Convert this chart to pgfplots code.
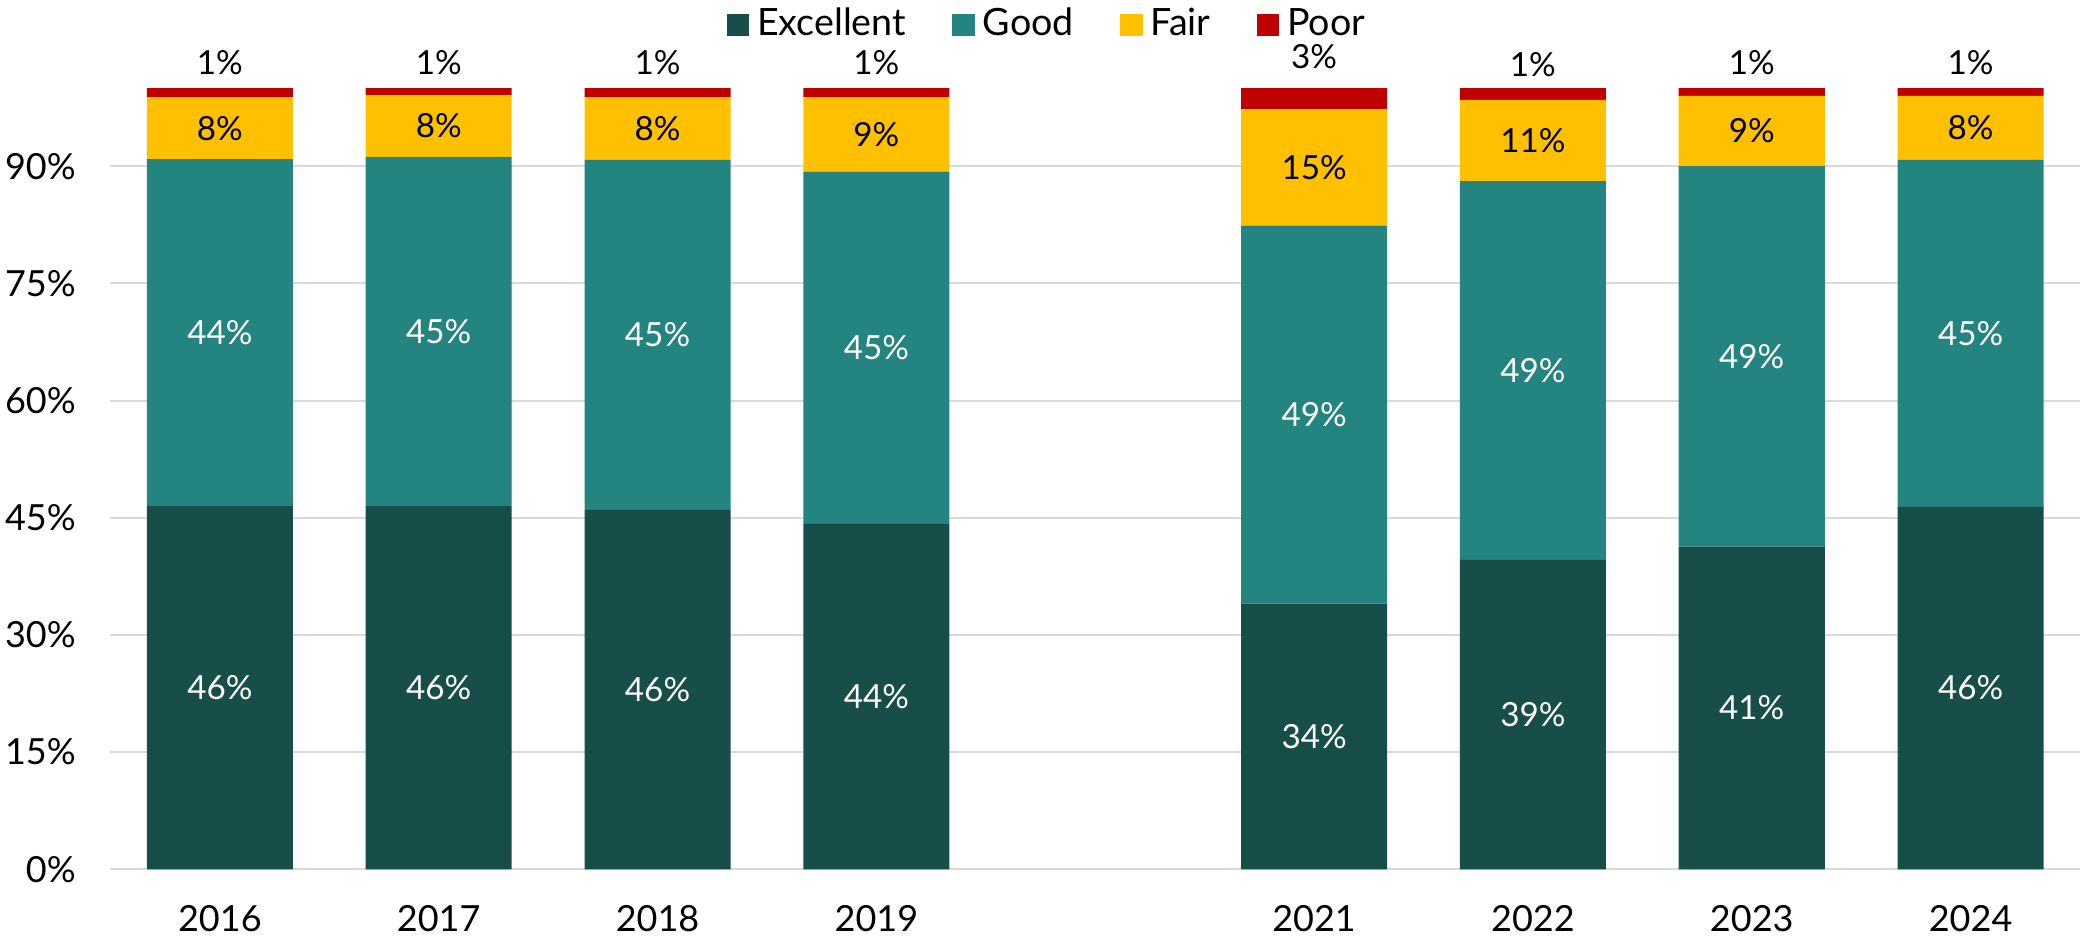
\documentclass[border=0pt]{standalone}
\usepackage{pgfplots}
\pgfplotsset{compat=1.18}
\usepackage{pgfplotstable}
\usepackage{fontspec}
\setmainfont{Lato}

\definecolor{cExc}{HTML}{184E4A}
\definecolor{cGood}{HTML}{248480}
\definecolor{cFair}{HTML}{FFC000}
\definecolor{cPoor}{HTML}{C00000}
\definecolor{cGrid}{HTML}{D9D9D9}

\pgfplotstableread{
x exc good fair poor le lg lf lp py
0 46.5 44.4 7.9 1.2 46 44 8 1 103.2
1 46.5 44.7 7.9 0.9 46 45 8 1 103.2
2 46.0 44.8 8.0 1.2 46 45 8 1 103.2
3 44.2 45.1 9.5 1.2 44 45 9 1 103.2
5 34.0 48.4 14.9 2.7 34 49 15 3 104.0
6 39.6 48.5 10.4 1.5 39 49 11 1 103.0
7 41.3 48.7 9.0 1.0 41 49 9 1 103.2
8 46.4 44.4 8.2 1.0 46 45 8 1 103.2
}\datatable

\pgfplotsset{
  frame/.style={
    scale only axis, width=492.25pt, height=195.25pt,
    xmin=-0.5, xmax=8.5, ymin=0, ymax=100,
  },
}

\begin{document}
\begin{tikzpicture}
\begin{axis}[
  frame,
  ybar stacked, bar width=36.5pt,
  xtick={0,1,2,3,5,6,7,8},
  xticklabels={2016,2017,2018,2019,2021,2022,2023,2024},
  ytick={0,15,30,45,60,75,90},
  yticklabels={0\%,15\%,30\%,45\%,60\%,75\%,90\%},
  ymajorgrids, grid style={cGrid, line width=0.5pt},
  axis line style={draw=none},
  tick style={draw=none},
  tick label style={font=\fontsize{9}{11}\selectfont, text=black},
  yticklabel style={inner xsep=1.25pt, inner ysep=0pt, xshift=-7.25pt},
  xticklabel style={inner xsep=0pt, inner ysep=1pt, yshift=-7.75pt},
  legend style={at={(0.477,1)}, anchor=center, yshift=15.8pt, draw=none,
    font=\fontsize{9.4}{11}\selectfont, inner sep=0pt,
    /tikz/every even column/.append style={column sep=9.6pt}},
  legend columns=-1,
  legend image code/.code={\fill[#1] (0pt,-2.8pt) rectangle (5.6pt,2.8pt);},
]
\addplot[fill=cExc, draw=none] table[x=x, y=exc] {\datatable};
\addlegendentry{Excellent}
\addplot[fill=cGood, draw=none] table[x=x, y=good] {\datatable};
\addlegendentry{Good}
\addplot[fill=cFair, draw=none] table[x=x, y=fair] {\datatable};
\addlegendentry{Fair}
\addplot[fill=cPoor, draw=none] table[x=x, y=poor] {\datatable};
\addlegendentry{Poor}
\end{axis}
\begin{axis}[
  frame, hide axis, clip=false,
  nodes near coords={\pgfplotspointmeta\%},
  point meta=explicit symbolic,
  every node near coord/.append style={anchor=center, font=\fontsize{8.3}{10}\selectfont},
]
\addplot[draw=none, nodes near coords style={text=white}] table[x=x, y expr=\thisrow{exc}/2, meta=le] {\datatable};
\addplot[draw=none, nodes near coords style={text=white}] table[x=x, y expr=\thisrow{exc}+\thisrow{good}/2, meta=lg] {\datatable};
\addplot[draw=none, nodes near coords style={text=black}] table[x=x, y expr=\thisrow{exc}+\thisrow{good}+\thisrow{fair}/2, meta=lf] {\datatable};
\addplot[draw=none, nodes near coords style={text=black}] table[x=x, y=py, meta=lp] {\datatable};
\end{axis}
\end{tikzpicture}
\end{document}
